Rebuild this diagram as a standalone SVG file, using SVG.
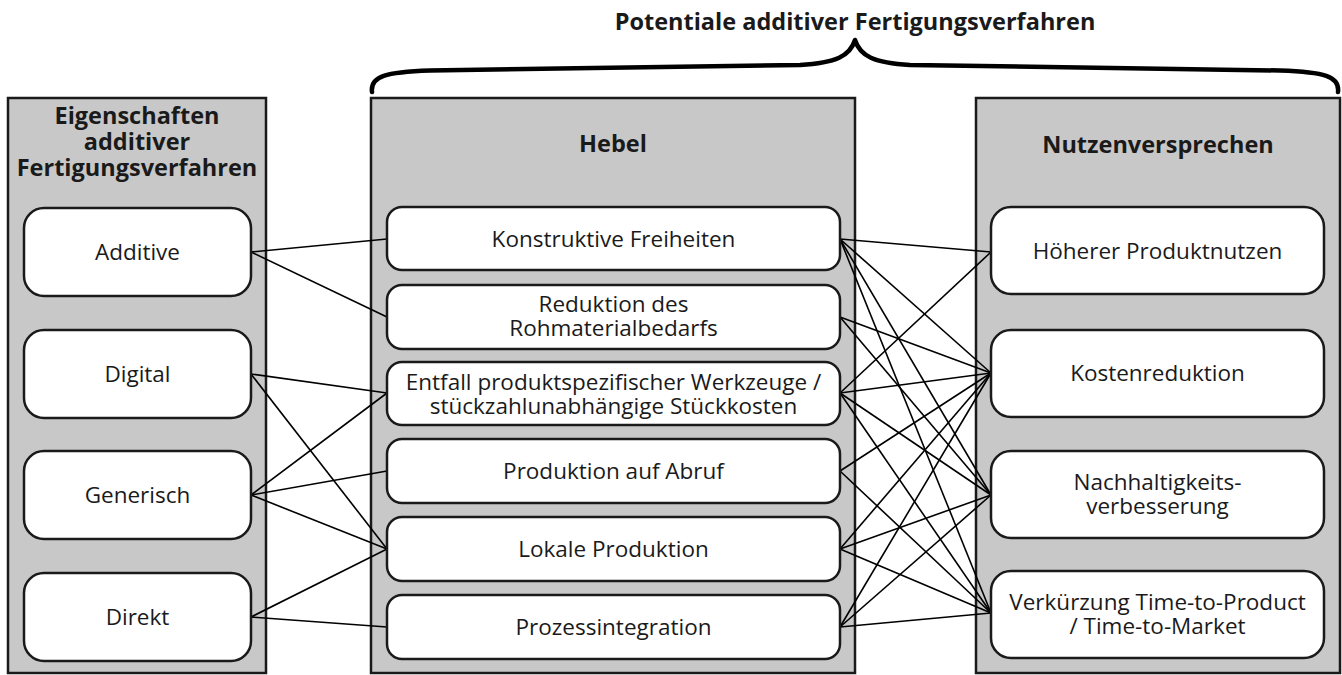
<svg xmlns="http://www.w3.org/2000/svg" width="1342" height="675" viewBox="0 0 1342 675">
<style>
.panel{fill:#c8c8c8;stroke:#1a1a1a;stroke-width:2.5}
.node{fill:#fff;stroke:#1a1a1a;stroke-width:2.5}
.hd{font-family:"Open Sans","Liberation Sans",sans-serif;font-weight:bold;font-size:23.5px;fill:#1a1a1a;text-anchor:middle}
.lb{font-family:"Open Sans","Liberation Sans",sans-serif;font-size:22.5px;fill:#1a1a1a;text-anchor:middle}
.cn line{stroke:#000;stroke-width:1.6}
</style>
<rect width="1342" height="675" fill="#fff"/>
<g id="title">
<text class="hd" x="855" y="30">Potentiale additiver Fertigungsverfahren</text>
<path d="M372,92 C370,76 386,72 430,70.5 L800,65 C836,63 850,56 855,40 C860,56 874,63 910,65 L1280,70.5 C1324,72 1340,76 1338,92" fill="none" stroke="#000" stroke-width="4.5" stroke-linejoin="round" stroke-linecap="round"/>
</g>
<g id="panel-eigenschaften">
<rect class="panel" x="8" y="98" width="258" height="575"/>
<text class="hd" x="137" y="124"><tspan x="137">Eigenschaften</tspan><tspan x="137" dy="26">additiver</tspan><tspan x="137" dy="26">Fertigungsverfahren</tspan></text>
</g>
<g id="panel-hebel">
<rect class="panel" x="371" y="98" width="484" height="575"/>
<text class="hd" x="613" y="152">Hebel</text>
</g>
<g id="panel-nutzen">
<rect class="panel" x="976" y="98" width="364" height="575"/>
<text class="hd" x="1158" y="153">Nutzenversprechen</text>
</g>
<g id="connectors" class="cn">
<line x1="251" y1="252" x2="387" y2="239"/>
<line x1="251" y1="252" x2="387" y2="317"/>
<line x1="251" y1="374" x2="387" y2="393"/>
<line x1="251" y1="374" x2="387" y2="549"/>
<line x1="251" y1="495" x2="387" y2="393"/>
<line x1="251" y1="495" x2="387" y2="471"/>
<line x1="251" y1="495" x2="387" y2="549"/>
<line x1="251" y1="617" x2="387" y2="549"/>
<line x1="251" y1="617" x2="387" y2="627"/>
<line x1="840" y1="239" x2="991" y2="252"/>
<line x1="840" y1="239" x2="991" y2="373"/>
<line x1="840" y1="239" x2="991" y2="495"/>
<line x1="840" y1="239" x2="991" y2="613"/>
<line x1="840" y1="317" x2="991" y2="373"/>
<line x1="840" y1="317" x2="991" y2="495"/>
<line x1="840" y1="393" x2="991" y2="252"/>
<line x1="840" y1="393" x2="991" y2="373"/>
<line x1="840" y1="393" x2="991" y2="495"/>
<line x1="840" y1="393" x2="991" y2="613"/>
<line x1="840" y1="471" x2="991" y2="373"/>
<line x1="840" y1="471" x2="991" y2="613"/>
<line x1="840" y1="549" x2="991" y2="373"/>
<line x1="840" y1="549" x2="991" y2="495"/>
<line x1="840" y1="549" x2="991" y2="613"/>
<line x1="840" y1="627" x2="991" y2="373"/>
<line x1="840" y1="627" x2="991" y2="495"/>
<line x1="840" y1="627" x2="991" y2="613"/>
</g>
<g id="n-additive"><rect class="node" x="24" y="208" width="227" height="88" rx="20"/><text class="lb" x="137.5" y="260">Additive</text></g>
<g id="n-digital"><rect class="node" x="24" y="330" width="227" height="88" rx="20"/><text class="lb" x="137.5" y="382">Digital</text></g>
<g id="n-generisch"><rect class="node" x="24" y="451" width="227" height="88" rx="20"/><text class="lb" x="137.5" y="503">Generisch</text></g>
<g id="n-direkt"><rect class="node" x="24" y="573" width="227" height="88" rx="20"/><text class="lb" x="137.5" y="625">Direkt</text></g>
<g id="n-konstruktiv"><rect class="node" x="387" y="207" width="453" height="63" rx="15"/><text class="lb" x="613.5" y="247">Konstruktive Freiheiten</text></g>
<g id="n-reduktion"><rect class="node" x="387" y="285" width="453" height="64" rx="15"/><text class="lb" x="613.5" y="312"><tspan x="613.5">Reduktion des</tspan><tspan x="613.5" dy="24">Rohmaterialbedarfs</tspan></text></g>
<g id="n-entfall"><rect class="node" x="387" y="362" width="453" height="63" rx="15"/><text class="lb" x="613.5" y="390"><tspan x="613.5">Entfall produktspezifischer Werkzeuge /</tspan><tspan x="613.5" dy="24">stückzahlunabhängige Stückkosten</tspan></text></g>
<g id="n-abruf"><rect class="node" x="387" y="439" width="453" height="64" rx="15"/><text class="lb" x="613.5" y="479">Produktion auf Abruf</text></g>
<g id="n-lokal"><rect class="node" x="387" y="517" width="453" height="64" rx="15"/><text class="lb" x="613.5" y="557">Lokale Produktion</text></g>
<g id="n-prozess"><rect class="node" x="387" y="595" width="453" height="64" rx="15"/><text class="lb" x="613.5" y="635">Prozessintegration</text></g>
<g id="n-produktnutzen"><rect class="node" x="991" y="207" width="333" height="87" rx="20"/><text class="lb" x="1157.5" y="259">Höherer Produktnutzen</text></g>
<g id="n-kosten"><rect class="node" x="991" y="330" width="333" height="87" rx="20"/><text class="lb" x="1157.5" y="381">Kostenreduktion</text></g>
<g id="n-nachhaltig"><rect class="node" x="991" y="451" width="333" height="87" rx="20"/><text class="lb" x="1157.5" y="490"><tspan x="1157.5">Nachhaltigkeits-</tspan><tspan x="1157.5" dy="24">verbesserung</tspan></text></g>
<g id="n-ttm"><rect class="node" x="991" y="571" width="333" height="87" rx="20"/><text class="lb" x="1157.5" y="610"><tspan x="1157.5">Verkürzung Time-to-Product</tspan><tspan x="1157.5" dy="24">/ Time-to-Market</tspan></text></g>
</svg>
